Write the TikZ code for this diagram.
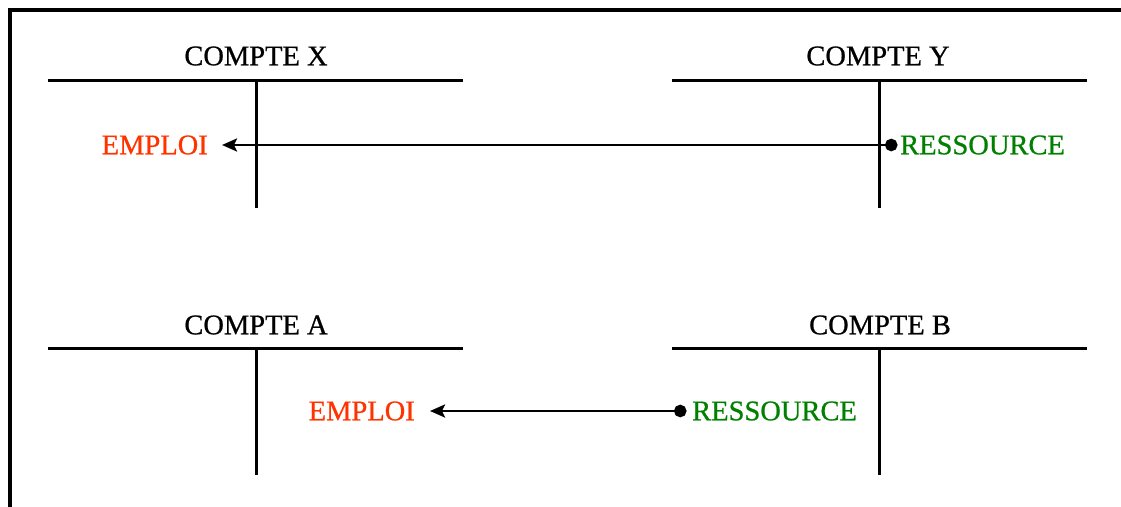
\documentclass[tikz,border=0pt]{standalone}
\usepackage{fontspec}
\setmainfont{Liberation Serif}[FakeBold=0.7]
\usetikzlibrary{arrows.meta}
\definecolor{empred}{HTML}{FF3300}
\definecolor{resgreen}{HTML}{008000}
\begin{document}
\begin{tikzpicture}[x=1pt,y=-1pt,
  txt/.style={font=\fontsize{28.5}{30}\selectfont, inner sep=0pt},
  title/.style={txt, text=black},
  emploi/.style={txt, text=empred, anchor=east},
  ressource/.style={txt, text=resgreen, anchor=west},
  ledger/.style={line width=3pt},
  frame/.style={line width=4pt},
  flow/.style={line width=2.6pt, {Circle[length=12.5pt]}-{Stealth[length=15pt,width=13pt,inset=3pt]}}]
\useasboundingbox (0,0) rectangle (1121,506);
\draw[frame] (10,520) -- (10,10) -- (1130,10);
% titles
\node[title] (cx) at (256,56) {COMPTE X};
\node[title] (cy) at (878,56) {COMPTE Y};
\node[title] (ca) at (256,325) {COMPTE A};
\node[title] (cb) at (880,325) {COMPTE B};
% T accounts
\draw[ledger] (48,80) -- (463,80) (256,80) -- (256,208);
\draw[ledger] (672,80) -- (1087,80) (879,80) -- (879,208);
\draw[ledger] (48,348) -- (463,348) (256,348) -- (256,475);
\draw[ledger] (672,348) -- (1087,348) (879,348) -- (879,475);
% labels
\node[emploi, inner xsep=14pt] (ex) at (222,145) {EMPLOI};
\node[ressource, inner xsep=2.5pt] (ry) at (897.5,145) {RESSOURCE};
\node[emploi, inner xsep=15pt] (ea) at (430,411) {EMPLOI};
\node[ressource, inner xsep=5.5pt] (rb) at (686.5,411) {RESSOURCE};
% flows
\draw[flow] (ry.west) -- (ex.east);
\draw[flow] (rb.west) -- (ea.east);
\end{tikzpicture}
\end{document}
